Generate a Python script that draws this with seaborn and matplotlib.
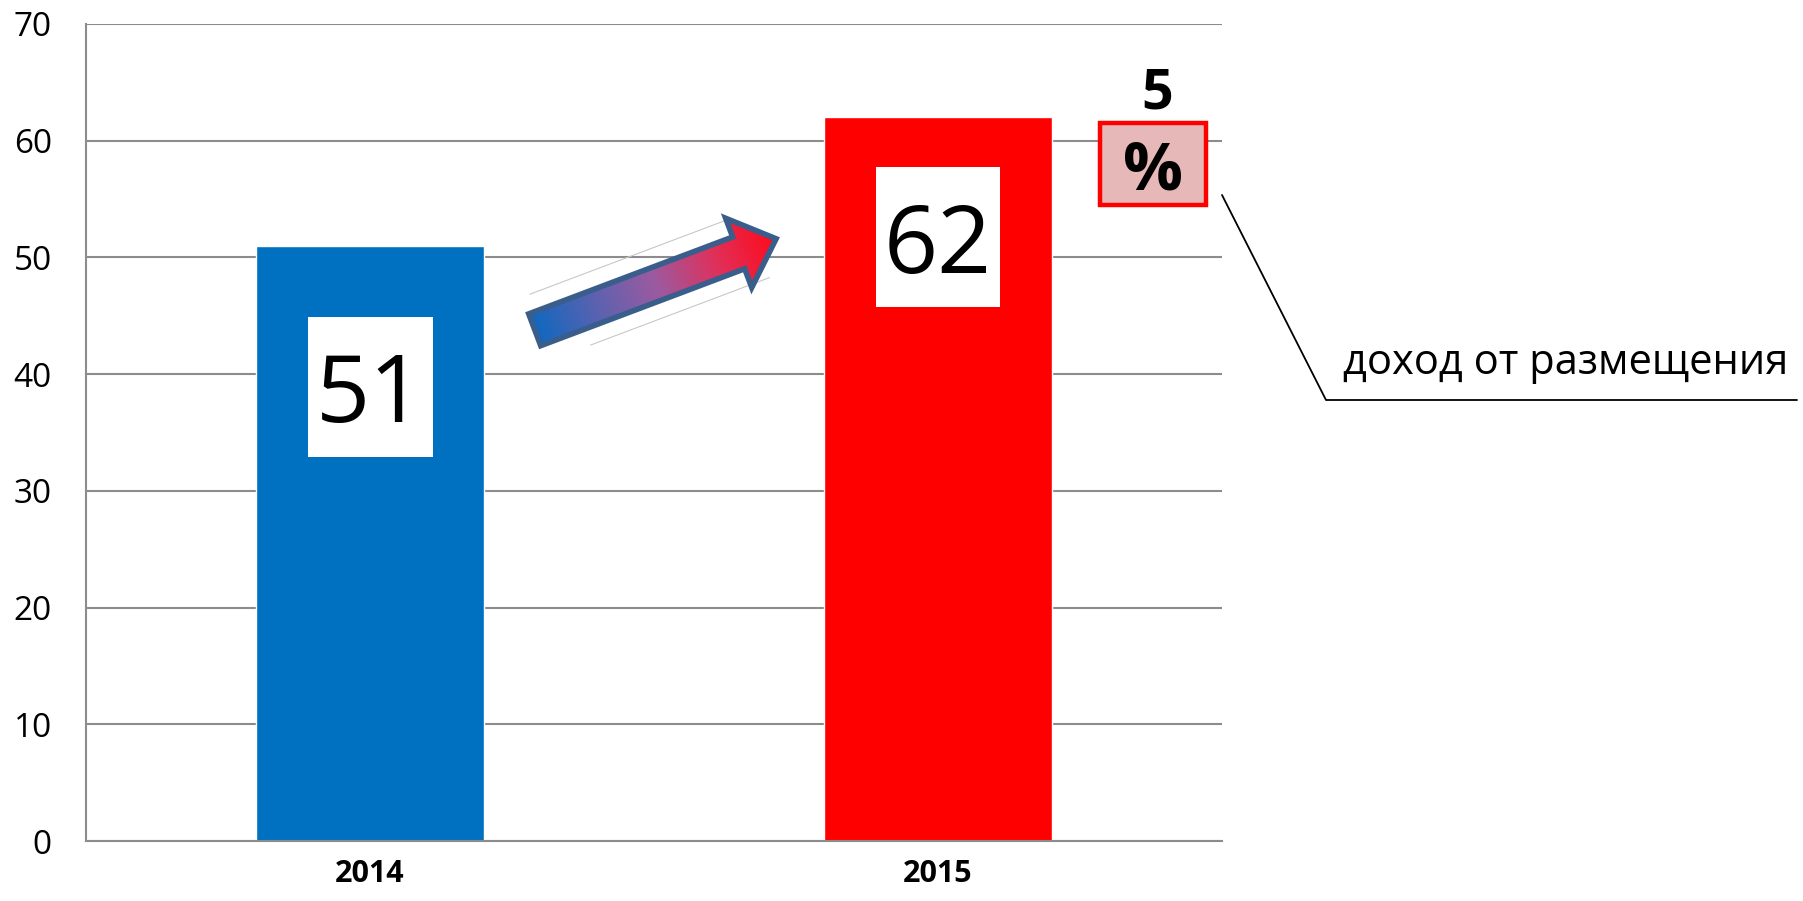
import numpy as np
import matplotlib
matplotlib.use("Agg")
import matplotlib.pyplot as plt
import seaborn as sns
from matplotlib.patches import Polygon, Rectangle
from matplotlib.lines import Line2D
from matplotlib.colors import LinearSegmentedColormap

years = ["2014", "2015"]
values = [51, 62]
bar_colors = ["#0070C0", "#FF0000"]
label_y = [38.9, 51.75]          # where the white value boxes sit
growth_digit = "5"
growth_sign = "%"
callout_text = "доход от размещения"

sns.set_style("white")
plt.rcParams["font.family"] = ["Open Sans", "DejaVu Sans"]
plt.rcParams["text.color"] = "black"
plt.rcParams["xtick.labelcolor"] = "black"
plt.rcParams["ytick.labelcolor"] = "black"

W, H = 1803, 901
fig = plt.figure(figsize=(W / 100, H / 100), dpi=100)
ax = fig.add_axes([86 / W, 1 - 841 / H, (1222 - 86) / W, (841 - 24) / H])

sns.barplot(x=years, y=values, hue=years, palette=bar_colors, width=0.4,
            saturation=1, legend=False, ax=ax, zorder=2)

ax.set_xlim(-0.5, 1.5)
ax.set_ylim(0, 70)
ax.set_yticks(range(0, 80, 10))
ax.yaxis.grid(True, color="#8c8c8c", lw=1.5)
ax.set_axisbelow(True)
ax.set_xlabel("")
ax.set_ylabel("")
for s in ["top", "right"]:
    ax.spines[s].set_visible(False)
for s in ["left", "bottom"]:
    ax.spines[s].set_color("#8c8c8c")
    ax.spines[s].set_linewidth(1.5)

# tick marks between categories, labels under the bars
ax.set_xticks([-0.5, 0.5, 1.5])
ax.set_xticklabels([])
ax.set_xticks([0, 1], minor=True)
ax.set_xticklabels(years, minor=True, fontweight="bold", fontsize=22)
ax.tick_params(axis="x", which="major", length=8, width=1.5, color="#8c8c8c")
ax.tick_params(axis="x", which="minor", length=0, pad=13)
ax.tick_params(axis="y", length=8.6, width=1.5, color="#8c8c8c",
               labelsize=24, pad=16)

to_px = ax.transData.transform
to_data = ax.transData.inverted().transform


def px_box(xc, yc, w, h, **kw):
    cx, cy = to_px((xc, yc))
    (a, b) = to_data((cx - w / 2, cy - h / 2))
    (c, d) = to_data((cx + w / 2, cy + h / 2))
    r = Rectangle((a, b), c - a, d - b, clip_on=False, **kw)
    ax.add_patch(r)
    return r


# value labels in white boxes
for i, v in enumerate(values):
    px_box(i, label_y[i], 125, 140, fc="white", ec="none", zorder=5)
    ax.text(i, label_y[i], str(v), ha="center", va="center_baseline",
            fontsize=68, zorder=6)

# gradient arrow between the bars
start = np.array(to_px((0.29, 43.8)))
end = np.array(to_px((0.715, 51.6)))
d = end - start
L = np.hypot(*d)
u = d / L
n = np.array([-u[1], u[0]])
hw, hhw, hl = 17, 37, 40
base = start + u * (L - hl)
verts_px = np.array([start + n * hw, base + n * hw, base + n * hhw, end,
                     base - n * hhw, base - n * hw, start - n * hw])
arrow = Polygon(to_data(verts_px), closed=True, fc="none", ec="#3A5E8C", lw=4,
                zorder=5, joinstyle="miter")
ax.add_patch(arrow)

# faint motion lines alongside the arrow
for off, a0, a1 in [(35, 8, 216), (-34, 47, 238)]:
    p = np.array([start + u * a0 + n * off, start + u * a1 + n * off])
    q = to_data(p)
    ax.plot(q[:, 0], q[:, 1], color="#c8c8c8", lw=0.8, zorder=3)

x0, y0 = verts_px.min(axis=0) - 5
x1, y1 = verts_px.max(axis=0) + 5
nx, ny = int(x1 - x0), int(y1 - y0)
X, Y = np.meshgrid(x0 + np.arange(nx) + 0.5, y0 + np.arange(ny) + 0.5)
t = np.clip(((X - start[0]) * u[0] + (Y - start[1]) * u[1]) / L, 0, 1)
cmap = LinearSegmentedColormap.from_list(
    "arr", ["#1068C0", "#5A62B0", "#9C5AA0", "#E0305A", "#FF0A1A"])
(dx0, dy0) = to_data((x0, y0))
(dx1, dy1) = to_data((x1, y1))
im = ax.imshow(cmap(t), extent=(dx0, dx1, dy0, dy1), origin="lower",
               aspect="auto", zorder=4, interpolation="bilinear")
im.set_clip_path(arrow)
ax.set_xlim(-0.5, 1.5)
ax.set_ylim(0, 70)

# growth label
ax.text(1.386, 64.6, growth_digit, ha="center", va="center_baseline",
        fontsize=40, fontweight="bold", clip_on=False, zorder=6)
px_box(1.379, 58.0, 106, 82, fc="#E6B9B8", ec="#FF0000", lw=3.2, zorder=5)
ax.text(1.379, 58.0, growth_sign, ha="center", va="center_baseline",
        fontsize=48, fontweight="bold", clip_on=False, zorder=6)

# callout leader
fig.add_artist(Line2D([1222 / W, 1326 / W, 1797 / W],
                      [1 - 195 / H, 1 - 400 / H, 1 - 400 / H],
                      color="black", lw=1.3, transform=fig.transFigure))
fig.text(1343 / W, 1 - 363 / H, callout_text, fontsize=30, ha="left",
         va="center")

fig.savefig("out.png", dpi=100)
